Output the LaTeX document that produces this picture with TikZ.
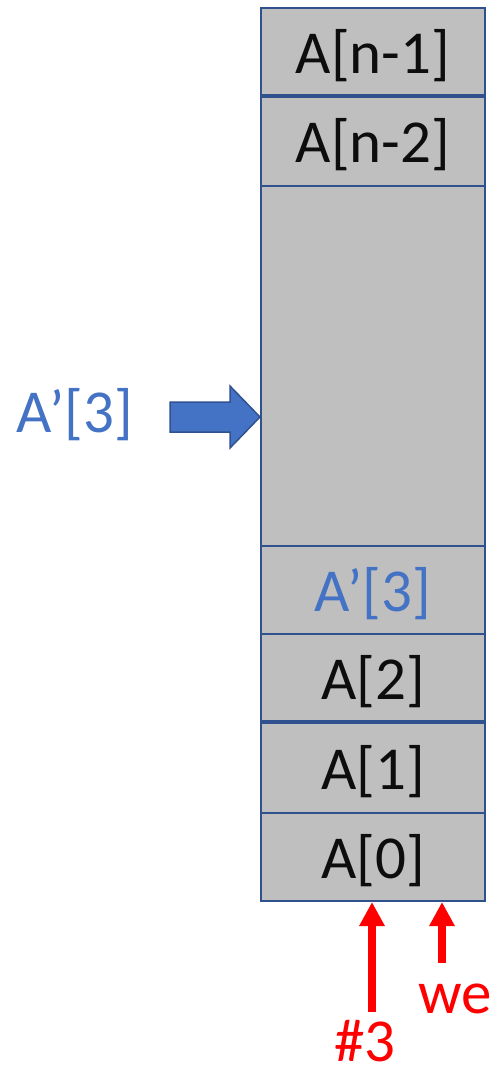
\documentclass[tikz,border=0pt]{standalone}
\usepackage{fontspec}
\setmainfont{Carlito}
\usetikzlibrary{arrows.meta}
\definecolor{cellfill}{HTML}{BFBFBF}
\definecolor{cellline}{HTML}{2F528F}
\definecolor{accblue}{HTML}{4472C4}
\definecolor{txtblack}{HTML}{0D0D0D}
\definecolor{sigred}{HTML}{FF0000}
\tikzset{
  cell/.style={draw=cellline, fill=cellfill, line width=2pt, minimum width=224pt,
    inner sep=0pt, anchor=north west, font=\fontsize{61}{72}\selectfont,
    text height=46pt, text depth=4pt, text=txtblack},
  lbl/.style={inner sep=0pt, font=\fontsize{61}{72}\selectfont, text height=46pt, text depth=4pt},
  sig/.style={draw=sigred, line width=7.5pt, -{Triangle[width=24pt,length=24pt]}},
  sepline/.style={draw=cellline, line width=3.5pt}
}
\begin{document}
\begin{tikzpicture}[x=1pt,y=-1pt]
\useasboundingbox (0,0) rectangle (495,1069);
\node[cell, minimum height=89pt] (c7) at (260,7) {A[n-1]};
\node[cell, minimum height=89pt] (c6) at (260,96) {A[n-2]};
\node[cell, minimum height=360pt] (c5) at (260,185) {};
\node[cell, minimum height=88pt, text=accblue] (c4) at (260,545) {A’[3]};
\node[cell, minimum height=89pt] (c3) at (260,633) {A[2]};
\node[cell, minimum height=90pt] (c2) at (260,722) {A[1]};
\node[cell, minimum height=88pt] (c1) at (260,812) {A[0]};
\draw[sepline] (c6.north west) -- (c6.north east);
\draw[sepline] (c2.north west) -- (c2.north east);
% block arrow
\node[lbl, text=accblue] (lab) at (75,411) {A’[3]};
\coordinate (tip) at (260,417);
\draw[cellline, fill=accblue, line width=1.5pt, line join=miter]
  (170,402) -- (230,402) -- (230,386) -- (tip) -- (230,448) -- (230,432) -- (170,432) -- cycle;
% red signals
\node[lbl, text=sigred] (n3) at (365,1040) {\#3};
\node[lbl, text=sigred] (we) at (455,992) {we};
\coordinate (s3) at (372,1012);
\coordinate (swe) at (442,963);
\draw[sig] (s3) -- (s3 |- c1.south);
\draw[sig] (swe) -- (swe |- c1.south);
\end{tikzpicture}
\end{document}
